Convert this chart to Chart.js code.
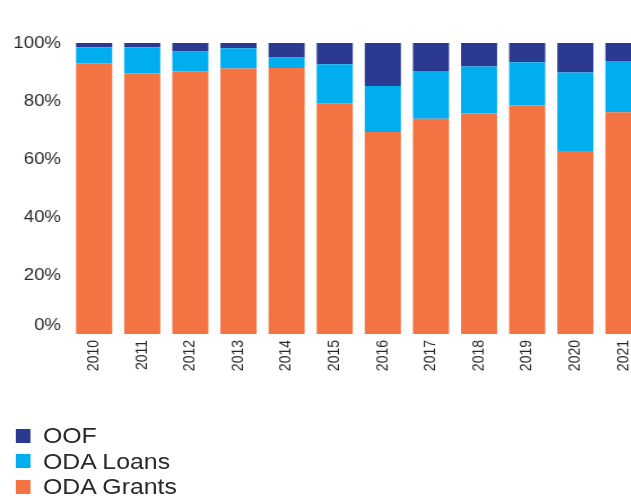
<!DOCTYPE html>
<html>
<head>
<meta charset="utf-8">
<script src="https://cdn.jsdelivr.net/npm/chart.js@4"></script>
<style>
  html, body { margin: 0; padding: 0; background: #ffffff; overflow: hidden; width: 631px; height: 496px; }
  #wrap { position: absolute; left: 0; top: 0; width: 582px; height: 496px; transform: scaleX(1.13); transform-origin: 0 0; }
  #c { position: absolute; left: 0; top: 0; }
  #legend { position: absolute; left: 14px; top: 423px; font-family: "Liberation Sans", Arial, sans-serif; font-size: 22px; line-height: 25.5px; color: #2a2a2a; }
  .item { display: flex; align-items: center; white-space: nowrap; }
  .sw { width: 13px; height: 14px; margin-right: 11px; flex: none; }
</style>
</head>
<body>
<div id="wrap">
  <canvas id="c" width="582" height="400"></canvas>
  <div id="legend"></div>
</div>
<script>
const years = ['2010','2011','2012','2013','2014','2015','2016','2017','2018','2019','2020','2021'];
const odaGrants = [93.0, 89.6, 90.3, 91.2, 91.4, 79.3, 69.4, 74.0, 75.8, 78.6, 62.9, 76.2];
const odaLoans  = [5.5, 8.9, 6.8, 7.0, 3.6, 13.4, 15.8, 16.4, 16.1, 14.8, 27.0, 17.6];
const oof       = [1.5, 1.5, 2.9, 1.8, 5.0, 7.3, 14.8, 9.6, 8.1, 6.6, 10.1, 6.2];
const yTicks    = [0, 20, 40, 60, 80, 100];

const seriesNames  = ['ODA Grants', 'ODA Loans', 'OOF'];
const seriesColors = ['#F37442', '#00AEEF', '#2B3990'];
const seriesData   = [odaGrants, odaLoans, oof];

const datasets = seriesNames.map((n, i) => ({
  label: n,
  data: seriesData[i],
  backgroundColor: seriesColors[i],
  borderWidth: 0,
  barPercentage: 1.0,
  categoryPercentage: 0.75
}));

const chart = new Chart(document.getElementById('c'), {
  type: 'bar',
  data: { labels: years, datasets: datasets },
  options: {
    responsive: false,
    animation: false,
    layout: { padding: { top: 43, right: 9, left: 0, bottom: 0 } },
    plugins: { legend: { display: false }, tooltip: { enabled: false } },
    scales: {
      x: {
        stacked: true,
        grid: { display: false, drawTicks: false },
        border: { display: false },
        ticks: {
          minRotation: 90, maxRotation: 90, autoSkip: false, padding: 6,
          color: '#2a2a2a',
          font: { family: '"Liberation Sans", Arial, sans-serif', size: 14 }
        },
        afterFit: (s) => { s.height = 66; }
      },
      y: {
        stacked: true,
        min: 0, max: 100,
        afterBuildTicks: (s) => { s.ticks = yTicks.map(v => ({ value: v })); },
        grid: { display: false, drawTicks: false },
        border: { display: false },
        ticks: {
          padding: 8,
          color: '#2a2a2a',
          font: (ctx) => ({ family: '"Liberation Sans", Arial, sans-serif', size: 16.5, lineHeight: ctx.index === 0 ? 1.0 : 1.2 }),
          callback: (v) => v === 0 ? ['0%', ''] : v + '%'
        },
        afterFit: (s) => { s.width = 62; }
      }
    }
  }
});

const legend = document.getElementById('legend');
chart.data.datasets.slice().reverse().forEach(ds => {
  const row = document.createElement('div');
  row.className = 'item';
  const sw = document.createElement('span');
  sw.className = 'sw';
  sw.style.background = ds.backgroundColor;
  const tx = document.createElement('span');
  tx.textContent = ds.label;
  row.appendChild(sw);
  row.appendChild(tx);
  legend.appendChild(row);
});
</script>
</body>
</html>
